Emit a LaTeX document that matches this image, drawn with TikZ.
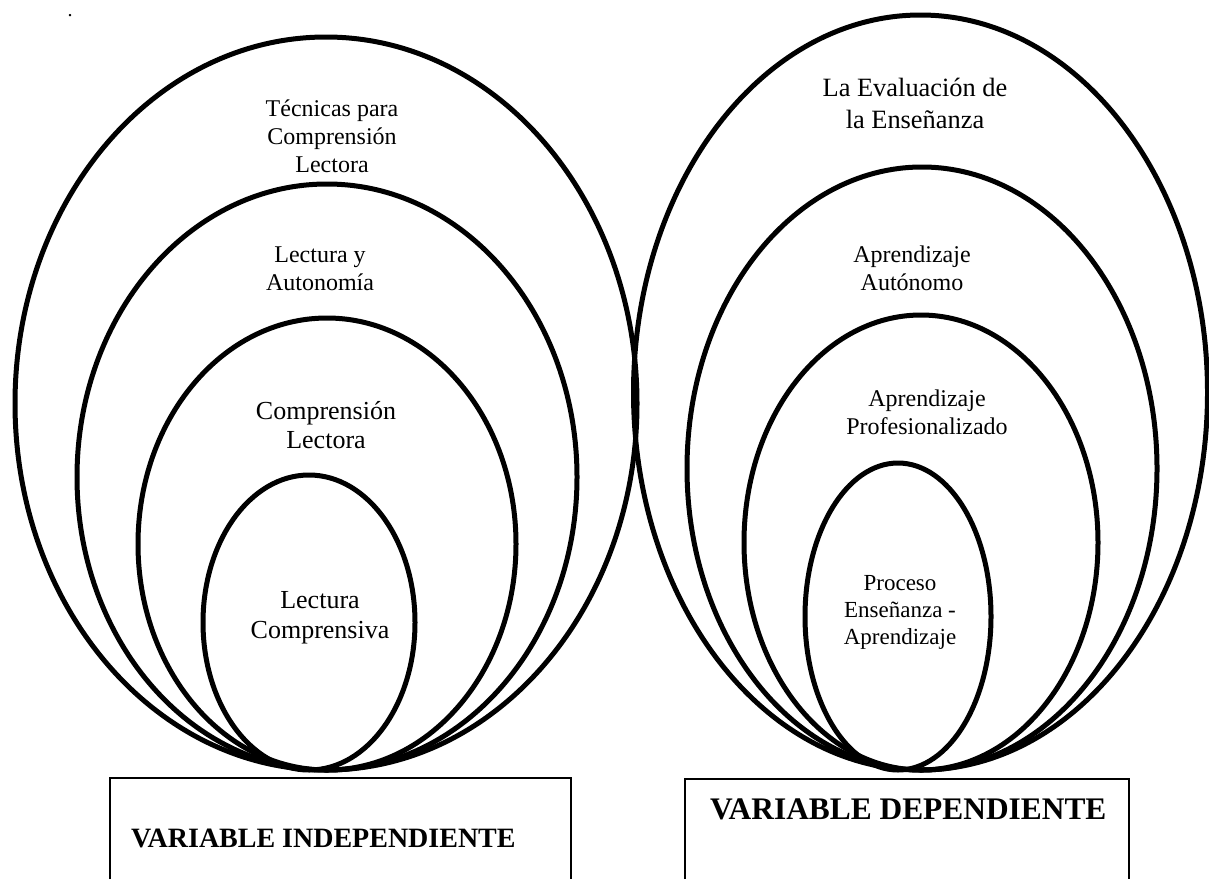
\documentclass[tikz,border=0pt]{standalone}
\usepackage{fontspec}
\setmainfont{Liberation Serif}

\begin{document}
\begin{tikzpicture}[x=0.5pt, y=-0.5pt,
        ring/.style={line width=2.5pt},
        ringtext/.style={align=center, font=\fontsize{12}{14}\selectfont},
        boxline/.style={line width=1pt}]

        \useasboundingbox (0,0) rectangle (1209,879);

        \node[anchor=base] (dot) at (70,16) {.};

        % independent variable
        \draw[ring] (326,403.5) ellipse (311 and 366.5);
        \draw[ring] (327,477) ellipse (250 and 293);
        \draw[ring] (327,544) ellipse (189 and 226);
        \draw[ring] (309,622.5) ellipse (106 and 147.5);

        \node[ringtext] (tecnicas) at (332,136) {Técnicas para\\Comprensión\\Lectora};
        \node[ringtext] (autonomia) at (320,269) {Lectura y\\Autonomía};
        \node[ringtext, font=\fontsize{13}{14.5}\selectfont] (comprension) at (326,425) {Comprensión\\Lectora};
        \node[ringtext, font=\fontsize{13}{15}\selectfont] (lectura) at (320,618) {Lectura\\Comprensiva};

        % dependent variable
        \draw[ring] (920.5,392.5) ellipse (287 and 377.5);
        \draw[ring] (922,468.5) ellipse (235 and 301.5);
        \draw[ring] (921,542.5) ellipse (177 and 227.5);
        \draw[ring] (898,616.5) ellipse (93 and 153.5);

        \node[ringtext, font=\fontsize{13.2}{16}\selectfont] (evaluacion) at (915,103) {La Evaluación de\\la Enseñanza};
        \node[ringtext] (autonomo) at (912,268) {Aprendizaje\\Autónomo};
        \node[ringtext] (profesional) at (927,412) {Aprendizaje\\Profesionalizado};
        \node[ringtext, font=\fontsize{11.5}{13.5}\selectfont] (proceso) at (900,612) {Proceso\\Enseñanza -\\Aprendizaje};

        % variable boxes
        \draw[boxline] (110,879) -- (110,778) -- (571,778) -- (571,879);
        \draw[boxline] (685,879) -- (685,779) -- (1129,779) -- (1129,879);

        \node[anchor=west, font=\fontsize{14}{16}\bfseries] (indep) at (124,838) {VARIABLE INDEPENDIENTE};
        \node[anchor=west, font=\fontsize{15.7}{18}\bfseries] (dep) at (703,809) {VARIABLE DEPENDIENTE};

\end{tikzpicture}
\end{document}
